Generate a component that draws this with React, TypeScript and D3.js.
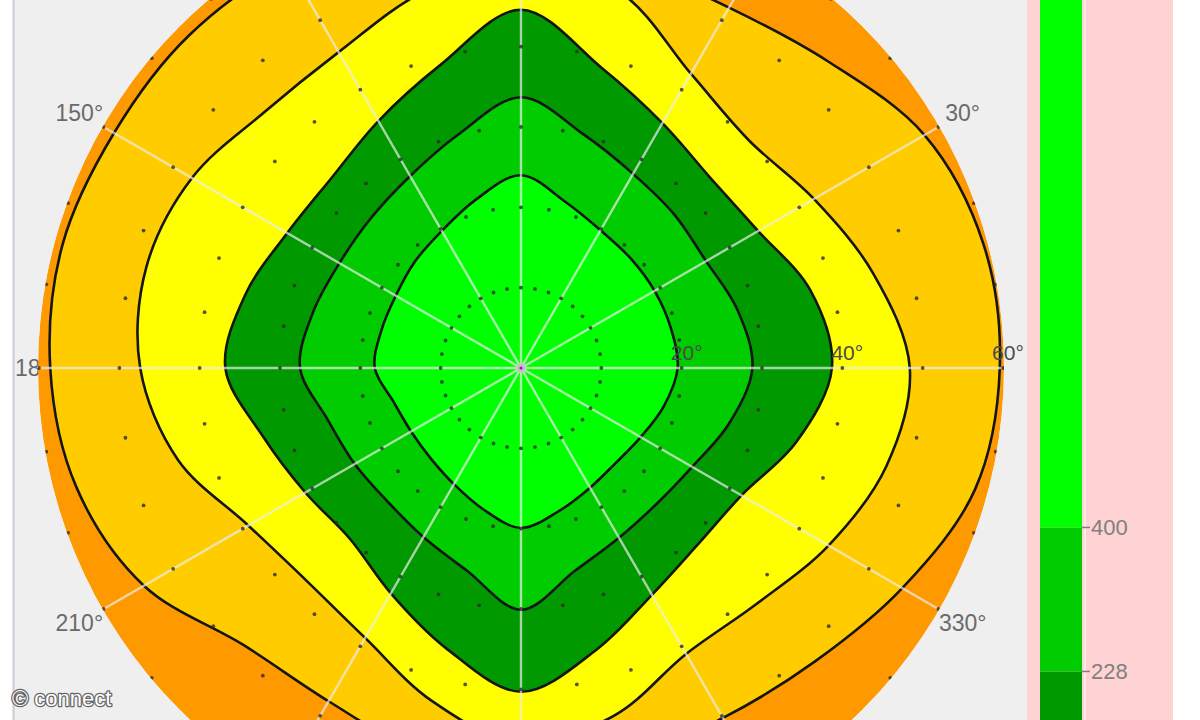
import React from 'react';
import * as d3 from 'd3';

// ---- data (polar contour boundaries, radius in "degrees" at each azimuth) ----
const azimuths = [0, 15, 30, 45, 60, 75, 90, 105, 120, 135, 150, 165, 180, 195, 210, 225, 240, 255, 270, 285, 300, 315, 330, 345];

const contour1 = [19.5, 19.3, 19.2, 19.3, 19.8, 21.4, 24.0, 21.7, 19.7, 18.7, 18.0, 18.0, 18.2, 16.4, 15.8, 15.9, 16.7, 18.2, 19.9, 18.4, 17.2, 16.7, 17.2, 18.4];
const contour2 = [28.8, 27.9, 26.6, 27.0, 27.9, 30.1, 33.7, 30.1, 27.6, 26.4, 26.1, 26.8, 27.5, 24.9, 23.9, 23.5, 24.3, 26.1, 30.1, 26.1, 24.4, 23.9, 24.6, 26.8];
const contour3 = [38.7, 37.3, 34.1, 33.4, 35.2, 38.7, 44.6, 39.0, 35.5, 33.4, 33.6, 35.5, 36.8, 33.2, 31.0, 30.1, 32.4, 36.1, 40.3, 36.3, 32.6, 31.1, 31.7, 35.5];
const contour4 = [48.4, 45.4, 42.1, 40.1, 42.3, 48.3, 51.0, 48.3, 45.4, 45.1, 47.3, 48.3, 47.4, 44.2, 39.2, 37.6, 38.8, 42.9, 46.7, 44.8, 41.1, 41.5, 44.2, 47.1];
const contour5 = [59.6, 59.6, 58.0, 54.0, 51.8, 52.0, 53.5, 56.0, 57.9, 58.5, 58.5, 59.1, 58.6, 57.3, 54.2, 48.8, 47.9, 49.5, 51.3, 50.4, 50.3, 51.7, 54.8, 58.5];

// outer to inner band colours
const outerColor = '#ff9900';
const bandColors = ['#ffcc00', '#ffff00', '#009900', '#00cc00', '#00ff00'];
const contours = [contour5, contour4, contour3, contour2, contour1];

// polar axis
const radialMax = 60;
const radialGrid = [10, 20, 30, 40, 50, 60];
const radialLabels = [20, 40, 60];
const spokeAngles = [0, 30, 60, 90, 120, 150, 180, 210, 240, 270, 300, 330];
const angleLabels = [30, 150, 180, 210, 330];
const dotStep = 10;

// colour bar
const cbDomain = [170, 1030];
const cbLevels = [
  { from: 170, to: 228, color: '#009900' },
  { from: 228, to: 400, color: '#00cc00' },
  { from: 400, to: 1030, color: '#00ff00' },
];
const cbTicks = [400, 228];

const W = 1200, H = 720;
const cx = 521, cy = 368, R = 482;

export default function App() {
  const r = d3.scaleLinear().domain([0, radialMax]).range([0, R]);
  const toRad = (deg: number) => (deg * Math.PI) / 180;
  const line = d3
    .lineRadial<[number, number]>()
    .angle((d) => toRad(90 - d[0]))
    .radius((d) => r(d[1]))
    .curve(d3.curveCatmullRomClosed.alpha(0.5));
  const pathFor = (vals: number[]) => line(azimuths.map((a, i) => [a, vals[i]] as [number, number])) || '';

  const cb = d3.scaleLinear().domain(cbDomain).range([H, 0]);

  const dots: [number, number][] = [];
  radialGrid.forEach((rv) => {
    for (let a = 0; a < 360; a += dotStep) dots.push([a, rv]);
  });

  const font = 'Liberation Sans, Arial, sans-serif';

  return (
    <svg width={W} height={H} style={{ position: 'fixed', left: 0, top: 0, display: 'block' }}>
      <rect x={0} y={0} width={W} height={H} fill="#ffffff" />
      <rect x={13} y={0} width={1014} height={H} fill="#efefef" />
      <line x1={13.5} x2={13.5} y1={0} y2={H} stroke="#c8ccd6" strokeWidth={2} />

      {/* angle labels (drawn under plot) */}
      <g fontFamily={font} fontSize={23} fill="#6a6a6a">
        {angleLabels.map((a) => {
          const lr = 510;
          const x = cx + lr * Math.cos(toRad(a));
          const y = cy - lr * Math.sin(toRad(a));
          const anchor = Math.abs(Math.cos(toRad(a))) > 0.99 ? (Math.cos(toRad(a)) < 0 ? 'start' : 'end') : 'middle';
          return (
            <text key={a} x={anchor === 'start' ? x + 4 : x} y={y} dy="0.35em" textAnchor={anchor}>
              {a}°
            </text>
          );
        })}
      </g>

      <defs>
        <clipPath id="plotClip">
          <circle cx={0} cy={0} r={R + 1} />
        </clipPath>
      </defs>

      <g transform={`translate(${cx},${cy})`}>
        <g clipPath="url(#plotClip)">
          <circle cx={0} cy={0} r={R + 1} fill={outerColor} />
          {contours.map((c, i) => (
            <path key={i} d={pathFor(c)} fill={bandColors[i]} stroke="#151515" strokeWidth={2.6} strokeLinejoin="round" />
          ))}
          {/* spokes */}
          {spokeAngles.map((a) => (
            <line
              key={a}
              x1={0}
              y1={0}
              x2={R * Math.cos(toRad(a))}
              y2={-R * Math.sin(toRad(a))}
              stroke="#ececec"
              strokeOpacity={0.7}
              strokeWidth={2.4}
            />
          ))}
          {/* dotted grid circles */}
          {dots.map(([a, rv], i) => (
            <circle
              key={i}
              cx={r(rv) * Math.cos(toRad(a))}
              cy={-r(rv) * Math.sin(toRad(a))}
              r={1.9}
              fill="#2a2a2a"
              fillOpacity={0.8}
            />
          ))}
        </g>
        <circle cx={0} cy={0} r={4.5} fill="#d8b4d8" />
        <circle cx={0} cy={0} r={1.6} fill="#555" />
        {/* radial labels */}
        <g fontFamily={font} fontSize={21} fill="#4a4a4a">
          {radialLabels.map((v) => (
            <text key={v} x={r(v) + 5} y={-8} textAnchor="middle">
              {v}°
            </text>
          ))}
        </g>
      </g>

      {/* colour bar panel */}
      <rect x={1027} y={0} width={146} height={H} fill="#ffd3d3" />
      {cbLevels.map((lv, i) => (
        <rect key={i} x={1040} y={cb(lv.to)} width={42} height={cb(lv.from) - cb(lv.to)} fill={lv.color} />
      ))}
      <line x1={1085} x2={1085} y1={0} y2={H} stroke="#fbeaea" strokeWidth={2} />
      <g fontFamily={font} fontSize={22} fill="#808080">
        {cbTicks.map((t) => (
          <g key={t}>
            <line x1={1082} x2={1090} y1={cb(t)} y2={cb(t)} stroke="#808080" strokeWidth={1.5} />
            <text x={1091} y={cb(t)} dy="0.35em">
              {t}
            </text>
          </g>
        ))}
      </g>

      {/* watermark */}
      <text
        x={12}
        y={706}
        fontFamily={font}
        fontSize={22}
        fill="#ffffff"
        stroke="#666"
        strokeWidth={2.5}
        paintOrder="stroke"
        strokeLinejoin="round"
      >
        © connect
      </text>
    </svg>
  );
}
